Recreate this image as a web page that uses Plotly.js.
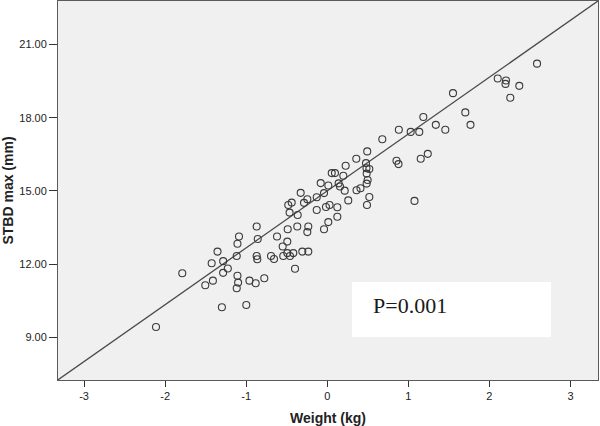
<!DOCTYPE html>
<html>
<head>
<meta charset="utf-8">
<script src="https://cdn.plot.ly/plotly-3.0.1.min.js"></script>
<style>html,body{margin:0;padding:0;background:#fff;}#chart{width:600px;height:426px;}</style>
</head>
<body>
<div id="chart"></div>
<script>
// Weight (kg) values
const weight = [-2.113,-1.789,-1.505,-1.426,-1.411,-1.354,-1.300,-1.285,-1.284,-1.227,
  -1.117,-1.117,-1.108,-1.108,-1.100,-1.089,-0.999,-0.960,-0.883,-0.871,
  -0.871,-0.863,-0.858,-0.777,-0.694,-0.657,-0.620,-0.550,-0.543,-0.493,
  -0.493,-0.488,-0.481,-0.465,-0.460,-0.439,-0.419,-0.398,-0.370,-0.365,
  -0.328,-0.308,-0.287,-0.246,-0.246,-0.234,-0.234,-0.130,-0.130,-0.081,
  -0.040,-0.040,-0.016,0.013,0.013,0.028,0.055,0.095,0.124,0.124,
  0.140,0.157,0.198,0.215,0.227,0.259,0.358,0.361,0.410,0.490,
  0.493,0.478,0.484,0.519,0.486,0.498,0.486,0.519,0.679,0.854,
  0.879,0.883,1.029,1.076,1.135,1.153,1.185,1.240,1.339,1.456,
  1.551,1.703,1.767,2.103,2.199,2.205,2.258,2.369,2.588];
// STBD max (mm) values
const stbd = [9.42,11.62,11.13,12.03,11.32,12.51,10.23,11.64,12.12,11.82,
  12.33,11.01,12.83,11.52,11.24,13.13,10.32,11.32,11.21,13.54,
  12.33,12.20,13.03,11.42,12.33,12.21,13.13,12.72,12.33,12.92,
  12.45,13.43,14.42,14.11,12.33,14.52,12.45,11.81,13.54,14.01,
  14.92,12.51,14.51,14.66,13.31,13.54,12.51,14.74,14.22,15.32,
  14.91,13.43,14.34,15.22,13.72,14.42,15.73,15.73,14.33,13.94,
  15.31,15.18,15.62,15.01,16.03,14.61,16.32,15.03,15.11,14.42,
  16.62,16.14,15.93,15.90,15.71,15.45,15.30,14.75,17.12,16.24,
  16.10,17.51,17.42,14.59,17.42,16.32,18.03,16.52,17.71,17.51,
  19.01,18.22,17.71,19.61,19.39,19.53,18.82,19.31,20.22];
// Fit line parameters
const fitIntercept = 15.0;
const fitSlope = 2.333;
const xTicks = [-3,-2,-1,0,1,2,3];
const yTicks = [9,12,15,18,21];
const xRange = [-3.322, 3.34];
const yRange = [7.244, 22.79];
const pLabel = 'P=0.001';

const lineX = xRange.slice();
const lineY = lineX.map(x => fitIntercept + fitSlope * x);

const traces = [
  {x: lineX, y: lineY, mode: 'lines', type: 'scatter', line: {color: '#4a4a4a', width: 1.3}, hoverinfo: 'skip'},
  {x: weight, y: stbd, mode: 'markers', type: 'scatter',
   marker: {symbol: 'circle-open', size: 7, color: '#3a3a3a', line: {width: 1.1, color: '#3a3a3a'}}}
];

const layout = {
  width: 600, height: 426,
  margin: {l: 58, r: 2, t: 1, b: 46},
  paper_bgcolor: '#ffffff',
  plot_bgcolor: '#f0f0f0',
  showlegend: false,
  font: {family: 'Liberation Sans, Arial, sans-serif', size: 11, color: '#222'},
  xaxis: {
    range: xRange, tickvals: xTicks, ticktext: xTicks.map(String),
    showgrid: false, zeroline: false,
    showline: true, mirror: true, linecolor: '#5a5a5a', linewidth: 1,
    ticks: 'outside', ticklen: 6, tickwidth: 1, tickcolor: '#333',
    tickfont: {family: 'Liberation Sans, Arial, sans-serif', size: 11, color: '#222'},
    title: {text: 'Weight (kg)', font: {family: 'Liberation Sans, Arial, sans-serif', size: 14, color: '#222', weight: 'bold'}, standoff: 14}
  },
  yaxis: {
    range: yRange, tickvals: yTicks, ticktext: yTicks.map(v => v.toFixed(2)),
    showgrid: false, zeroline: false,
    showline: true, mirror: true, linecolor: '#5a5a5a', linewidth: 1,
    ticks: 'outside', ticklen: 8, tickwidth: 1, tickcolor: '#333',
    tickfont: {family: 'Liberation Sans, Arial, sans-serif', size: 11, color: '#222'},
    title: {text: 'STBD max (mm)', font: {family: 'Liberation Sans, Arial, sans-serif', size: 14, color: '#222', weight: 'bold'}, standoff: 6}
  },
  shapes: [
    {type: 'rect', xref: 'paper', yref: 'paper', x0: 0.5444, x1: 0.9130, y0: 0.1135, y1: 0.2586,
     fillcolor: '#ffffff', line: {width: 0}, layer: 'below'}
  ],
  annotations: [
    {text: pLabel, xref: 'paper', yref: 'paper', x: 0.5796, y: 0.1966, xanchor: 'left', yanchor: 'middle',
     showarrow: false, font: {family: 'Liberation Serif, Times New Roman, serif', size: 22, color: '#1a1a1a'}}
  ]
};

Plotly.newPlot('chart', traces, layout, {displayModeBar: false, staticPlot: true});
</script>
</body>
</html>
